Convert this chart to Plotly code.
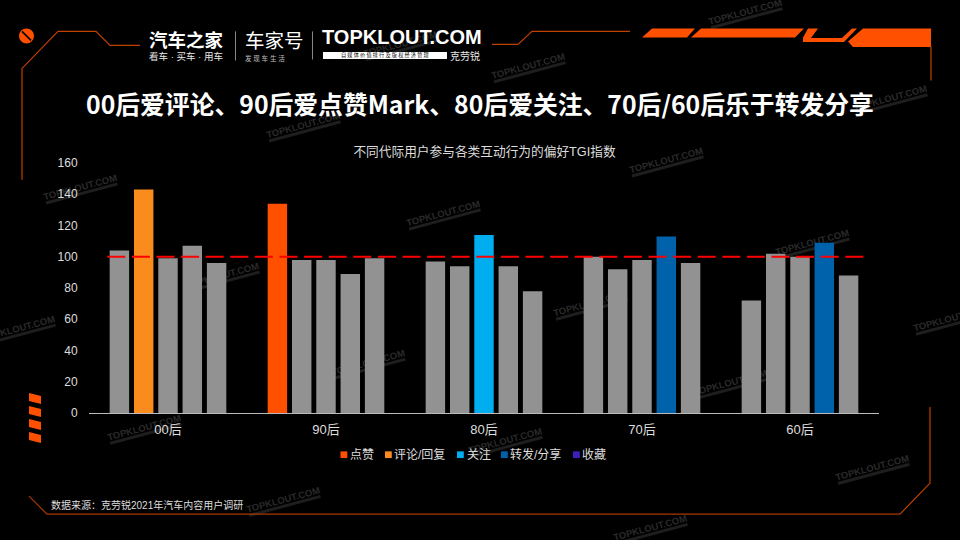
import math
import plotly.graph_objects as go

# ---------- data ----------
categories = ["00后", "90后", "80后", "70后", "60后"]
series_names = ["点赞", "评论/回复", "关注", "转发/分享", "收藏"]
like_values = [104, 134, 97, 100, 72]
comment_values = [143, 98, 94, 92, 102]
follow_values = [99, 98, 114, 98, 100]
share_values = [107, 89, 94, 113, 109]
collect_values = [96, 99, 78, 96, 88]
series_values = [like_values, comment_values, follow_values, share_values, collect_values]
series_colors = ["#FF5000", "#FA8C1E", "#00AEEF", "#0062AB", "#3D1FBF"]
highlighted = [["90后"], ["00后"], ["80后"], ["70后", "60后"], []]
benchmark = 100
y_ticks = [0, 20, 40, 60, 80, 100, 120, 140, 160]

title_text = "00后爱评论、90后爱点赞Mark、80后爱关注、70后/60后乐于转发分享"
subtitle_text = "不同代际用户参与各类互动行为的偏好TGI指数"
source_text = "数据来源\uff1a克劳锐2021年汽车内容用户调研"

# ---------- layout helpers (pixel -> paper) ----------
W, H = 960, 540
L, R, T, B = 89, 81, 163.4, 127
PW, PH = W - L - R, H - T - B
GREY = "#929292"
TXT = "#DDDDDD"
LINE = "#C04000"
ORANGE = "#FF5000"
CJK = "Liberation Sans, Noto Sans CJK SC"


def px(x):
    return (x - L) / PW


def py(y):
    return (H - B - y) / PH


def poly(points, closed=True):
    d = "M " + " L ".join(f"{px(x):.5f},{py(y):.5f}" for x, y in points)
    return d + (" Z" if closed else "")


shapes = []
annotations = []


def line_path(points, color=LINE, width=1.2):
    shapes.append(dict(type="path", xref="paper", yref="paper", path=poly(points, False),
                       line=dict(color=color, width=width), fillcolor="rgba(0,0,0,0)", layer="below"))


def fill_path(points, color=ORANGE):
    shapes.append(dict(type="path", xref="paper", yref="paper", path=poly(points),
                       line=dict(width=0), fillcolor=color, layer="below"))


def text(x, y, s, size, color="#FFFFFF", anchor="left", family=CJK, weight=400):
    annotations.append(dict(x=px(x), y=py(y), xref="paper", yref="paper", text=s, showarrow=False,
                            xanchor=anchor, yanchor="middle", align=anchor,
                            font=dict(size=size, color=color, family=family, weight=weight),
                            borderpad=0, borderwidth=0))


# watermarks, behind the bars
wm_centers = [(745, 12), (400, 44), (528, 66), (303, 125), (890, 98), (80, 187), (443, 213),
              (222, 275), (368, 362), (666, 160), (590, 303), (812, 242), (730, 382),
              (144, 427), (505, 440), (283, 499), (650, 527), (872, 467), (950, 318), (18, 328)]
a = math.radians(15)
for cx, cy in wm_centers:
    shapes.append(dict(type="rect", xref="paper", yref="paper", layer="below",
                       x0=px(cx - 45), x1=px(cx + 45), y0=py(cy + 20), y1=py(cy - 20),
                       line=dict(width=0), fillcolor="rgba(0,0,0,0)",
                       label=dict(text="TOPKLOUT.COM", textangle=-15, textposition="middle center",
                                  font=dict(size=9.5, color="#2A2A2A", family="Liberation Sans", weight=700))))
    sx, sy = cx + 1.8, cy + 6.8
    dx, dy = 37 * math.cos(a), -37 * math.sin(a)
    line_path([(sx - dx, sy - dy), (sx + dx, sy + dy)], color="#1E1E1E", width=3)

# frame lines and ornaments
line_path([(22, 180), (22, 69), (58, 32), (96, 32), (110, 46), (140, 46)])
line_path([(492, 45), (518, 45), (532, 32), (630, 32)])
line_path([(931, 47), (931, 81)])
line_path([(29, 496), (47, 514), (900, 514)], color="#A83800")
line_path([(900, 514), (930, 483), (930, 407)])
fill_path([(642, 38), (652, 29), (695, 29), (687, 38)])
fill_path([(691, 38), (701, 29), (804, 29), (795, 38)])
fill_path([(808, 29), (818, 29), (811, 38.5), (842, 38.5), (852, 29), (857, 29), (844, 42.5), (803, 42.5), (803, 38)])
fill_path([(863, 29), (931, 29), (931, 47.5), (853, 47.5), (848, 42)])
for top in (393, 406, 419, 432):
    fill_path([(29, top), (41, top + 3), (41, top + 11), (29, top + 8)])
shapes.append(dict(type="circle", xref="paper", yref="paper", layer="below",
                   x0=px(19), x1=px(34), y0=py(44), y1=py(29), line=dict(width=0), fillcolor=ORANGE))
line_path([(22, 32), (31, 41)], color="#000000", width=1.6)

# logos
text(149, 40, "汽车之家", 18.5, weight=700, family="Noto Sans CJK SC")
text(149, 57.5, "看车 · 买车 · 用车", 9.5, color="#E8E8E8")
line_path([(235.5, 32), (235.5, 61)], color="#888888", width=1)
text(245, 40, "车家号", 19.5, family="Noto Sans CJK SC")
text(245, 59, "发 现 车 生 活", 6.5, color="#C0C0C0")
line_path([(312.5, 32), (312.5, 60)], color="#888888", width=1)
text(322, 38, "TOPKLOUT.COM", 20, family="Liberation Sans", weight=700)
fill_path([(323, 52.5), (447, 52.5), (447, 59.5), (323, 59.5)], color="#FFFFFF")
text(385, 56, "自 媒 体 价 值 排 行 及 版 权 经 济 管 理", 5.2, color="#000000", anchor="center", family="Noto Sans CJK SC")
text(450, 56.5, "克劳锐", 10, color="#E8E8E8")

# titles, source
text(480, 103, title_text, 24.8, anchor="center", family="Noto Sans CJK SC", weight=700)
text(51, 505, source_text, 10, color=TXT)

# legend
for name, color, mx, tx in zip(series_names, series_colors,
                               [340.5, 385, 457, 501, 573], [350, 394, 467, 510, 582]):
    fill_path([(mx, 451.3), (mx + 6.8, 451.3), (mx + 6.8, 458), (mx, 458)], color=color)
    text(tx, 454.5, name, 12, color=TXT)

# benchmark line, above the bars
shapes.append(dict(type="line", xref="paper", yref="y", x0=px(107.3), x1=px(867.7),
                   y0=benchmark, y1=benchmark, layer="above",
                   line=dict(color="#FF0000", width=2, dash="18px,6.6px")))

fig = go.Figure()
for name, color, values, hi in zip(series_names, series_colors, series_values, highlighted):
    fig.add_bar(name=name, x=categories, y=values, showlegend=False,
                marker=dict(color=[color if c in hi else GREY for c in categories], line=dict(width=0)))

fig.update_layout(
    width=W, height=H, margin=dict(l=L, r=R, t=T, b=B, pad=0),
    paper_bgcolor="#000000", plot_bgcolor="rgba(0,0,0,0)",
    barmode="group", bargap=0.231, bargroupgap=0.2, showlegend=False,
    font=dict(family=CJK, color=TXT, size=12),
    title=dict(text=subtitle_text, x=484.5 / W, xref="container", xanchor="center",
               y=1 - 152 / H, yref="container", yanchor="middle",
               font=dict(size=12.7, color=TXT, family=CJK)),
    xaxis=dict(type="category", categoryorder="array", categoryarray=categories,
               showgrid=False, zeroline=False, showline=True, linecolor="#BBBBBB", linewidth=1,
               ticks="outside", ticklen=4, tickcolor="rgba(0,0,0,0)",
               tickfont=dict(size=13, color=TXT, family=CJK)),
    yaxis=dict(range=[0, 160], tickvals=y_ticks, showgrid=False, zeroline=False, showline=False,
               ticks="outside", ticklen=8, tickcolor="rgba(0,0,0,0)",
               tickfont=dict(size=12, color=TXT, family=CJK)),
    shapes=shapes, annotations=annotations,
)
fig.write_html("out.html", config={"displayModeBar": False},
               post_script="document.body.style.margin='0';")
